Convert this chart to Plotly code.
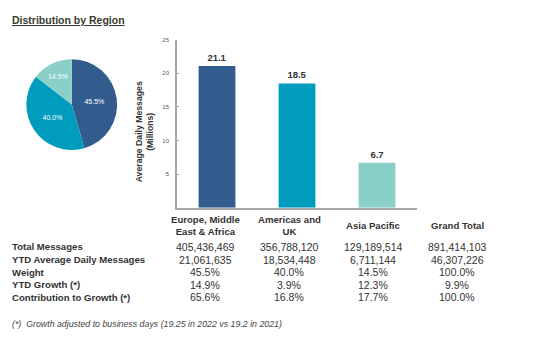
import plotly.graph_objects as go

W, H = 537, 337

# ---- data ----
regions = ["Europe, Middle East & Africa", "Americas and UK", "Asia Pacific"]
region_headers = ["Europe, Middle<br>East & Africa", "Americas and<br>UK", "Asia Pacific", "Grand Total"]
avg_daily_millions = [21.1, 18.5, 6.7]
weights = [45.5, 40.0, 14.5]
colors = ["#335C8E", "#009CBD", "#8AD0C8"]

row_labels = ["Total Messages", "YTD Average Daily Messages", "Weight",
              "YTD Growth (*)", "Contribution to Growth (*)"]
total_messages = [405436469, 356788120, 129189514, 891414103]
ytd_avg_daily = [21061635, 18534448, 6711144, 46307226]
weight_pct = [45.5, 40.0, 14.5, 100.0]
ytd_growth = [14.9, 3.9, 12.3, 9.9]
contribution = [65.6, 16.8, 17.7, 100.0]

y_ticks = [5, 10, 15, 20, 25]
footnote = "(*)  Growth adjusted to business days (19.25 in 2022 vs 19.2 in 2021)"
title = "Distribution by Region"

TXT = "#333333"
FONT = "Liberation Sans, Arial, sans-serif"

def px(x):
    return x / W

def py(y):
    return 1 - y / H

fig = go.Figure()

# pie
fig.add_trace(go.Pie(
    labels=regions, values=weights, sort=False, direction="clockwise", rotation=0,
    marker=dict(colors=colors, line=dict(width=0)),
    texttemplate="%{value:.1f}%", textposition="inside",
    insidetextorientation="horizontal",
    textfont=dict(color="white", size=7, family=FONT),
    domain=dict(x=[px(26), px(117.5)], y=[py(148.3), py(56.7)]),
    showlegend=False, hoverinfo="label+value",
))

# bars
fig.add_trace(go.Bar(
    x=regions, y=avg_daily_millions, marker=dict(color=colors, line=dict(width=0)),
    text=[f"{v:.1f}" for v in avg_daily_millions], textposition="outside",
    textfont=dict(size=9.5, color=TXT, family=FONT), texttemplate="<b>%{text}</b>",
    cliponaxis=False, showlegend=False, xaxis="x", yaxis="y",
))

fig.update_layout(
    width=W, height=H, margin=dict(l=0, r=0, t=0, b=0),
    paper_bgcolor="white", plot_bgcolor="white",
    font=dict(family=FONT, color=TXT),
    bargap=0.54,
    xaxis=dict(domain=[px(177), px(417)], showticklabels=False, ticks="",
               showline=True, linecolor="#A6A6A6", linewidth=1.5, showgrid=False,
               zeroline=False, fixedrange=True),
    yaxis=dict(domain=[py(206.7), py(37)], range=[0, 25], tickvals=y_ticks,
               ticktext=[str(t) for t in y_ticks],
               tickfont=dict(size=6, color="#555555"), ticks="inside", ticklen=2,
               tickcolor="#A6A6A6", ticklabelstandoff=5,
               showline=True, linecolor="#A6A6A6", linewidth=1.5, showgrid=False,
               zeroline=False, fixedrange=True),
)

ann = []
# title
ann.append(dict(x=px(10), y=py(17.5), xref="paper", yref="paper", xanchor="left", yanchor="middle",
                text=f"<b><u>{title}</u></b>", showarrow=False,
                font=dict(size=10.5, color="#3A3A2E", family=FONT)))
# y axis title
ann.append(dict(x=px(144.5), y=py(130), xref="paper", yref="paper", xanchor="center", yanchor="middle",
                text="<b>Average Daily Messages<br>(Millions)</b>", textangle=-90, showarrow=False,
                font=dict(size=8.7, color=TXT, family=FONT)))

col_x = [205, 289, 373, 457]
# headers
for cx, h in zip(col_x, region_headers):
    ann.append(dict(x=px(cx), y=py(224.5), xref="paper", yref="paper", xanchor="center", yanchor="middle",
                    text=f"<b>{h}</b>", showarrow=False,
                    font=dict(size=9.6, color=TXT, family=FONT)))

rows_y = [246, 259, 271.5, 284.5, 297]
row_values = [
    [f"{v:,}" for v in total_messages],
    [f"{v:,}" for v in ytd_avg_daily],
    [f"{v:.1f}%" for v in weight_pct],
    [f"{v:.1f}%" for v in ytd_growth],
    [f"{v:.1f}%" for v in contribution],
]
for ry, lab, vals in zip(rows_y, row_labels, row_values):
    ann.append(dict(x=px(10), y=py(ry), xref="paper", yref="paper", xanchor="left", yanchor="middle",
                    text=f"<b>{lab}</b>", showarrow=False,
                    font=dict(size=9.6, color=TXT, family=FONT)))
    for cx, v in zip(col_x, vals):
        ann.append(dict(x=px(cx), y=py(ry), xref="paper", yref="paper", xanchor="center", yanchor="middle",
                        text=v, showarrow=False,
                        font=dict(size=10.5, color=TXT, family=FONT)))

ann.append(dict(x=px(10), y=py(324), xref="paper", yref="paper", xanchor="left", yanchor="middle",
                text=f"<i>{footnote}</i>", showarrow=False,
                font=dict(size=8.8, color="#444444", family=FONT)))

fig.update_layout(annotations=ann)
fig.write_html("out.html")
